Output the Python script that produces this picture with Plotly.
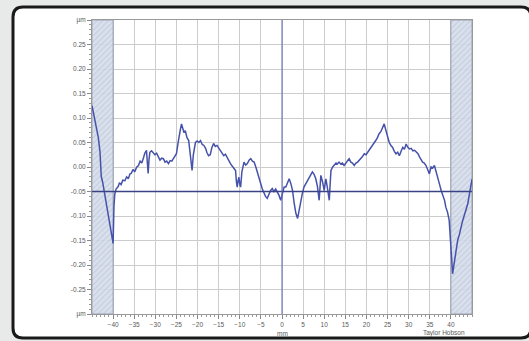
import plotly.graph_objects as go

# Profile data (mm, µm)
pos_mm = [-45.0,-44.6,-44.2,-43.9,-43.5,-43.1,-42.8,-42.5,-42.1,-41.6,-41.2,-40.8,-40.4,-40.0,-39.8,-39.6,-39.3,-38.8,-38.5,-38.1,
 -37.7,-37.2,-36.8,-36.4,-36.0,-35.7,-35.3,-34.9,-34.4,-34.0,-33.6,-33.2,-32.8,-32.5,-32.1,-31.9,-31.7,-31.5,-31.3,-30.9,
 -30.5,-30.1,-29.7,-29.3,-28.9,-28.5,-28.1,-27.7,-27.3,-26.9,-26.5,-26.1,-25.7,-25.3,-25.0,-24.6,-24.3,-24.1,-23.8,-23.5,
 -23.2,-22.9,-22.5,-22.1,-21.8,-21.5,-21.3,-21.0,-20.7,-20.5,-20.1,-19.7,-19.3,-18.9,-18.5,-18.1,-17.8,-17.4,-17.0,-16.6,
 -16.2,-15.8,-15.4,-15.0,-14.6,-14.2,-13.8,-13.4,-13.0,-12.6,-12.2,-11.8,-11.4,-11.0,-10.8,-10.6,-10.4,-10.2,-10.0,-9.8,
 -9.5,-9.2,-9.0,-8.6,-8.2,-7.8,-7.4,-7.0,-6.6,-6.2,-5.8,-5.4,-5.0,-4.7,-4.3,-3.9,-3.5,-3.1,-2.7,-2.3,
 -1.9,-1.5,-1.1,-0.7,-0.3,0.1,0.5,0.9,1.3,1.7,2.1,2.5,2.9,3.3,3.7,4.0,4.4,4.8,5.2,5.6,
 6.0,6.4,6.8,7.2,7.6,8.0,8.4,8.8,9.0,9.2,9.6,10.0,10.2,10.4,10.8,11.2,11.4,11.6,12.0,12.4,
 12.8,13.1,13.5,13.9,14.3,14.7,15.1,15.5,15.9,16.3,16.7,17.1,17.5,17.9,18.3,18.7,19.1,19.5,19.9,20.3,
 20.7,21.1,21.4,21.8,22.2,22.6,23.0,23.4,23.8,24.2,24.6,25.0,25.4,25.8,26.2,26.6,27.0,27.4,27.8,28.2,
 28.6,29.0,29.4,29.8,30.2,30.6,31.0,31.4,31.8,32.2,32.6,33.0,33.3,33.7,34.1,34.5,34.9,35.3,35.7,36.1,
 36.5,36.9,37.3,37.7,38.1,38.5,38.8,39.2,39.6,39.8,40.0,40.2,40.4,40.8,41.2,41.6,42.0,42.4,42.8,43.2,
 43.6,44.0,44.4,44.8,45.0]
height_um = [0.125,0.108,0.090,0.080,0.060,0.030,-0.020,-0.030,-0.050,-0.075,-0.088,-0.110,-0.130,-0.156,-0.080,-0.055,-0.045,-0.040,-0.032,-0.036,
 -0.027,-0.028,-0.020,-0.024,-0.014,-0.013,-0.005,-0.010,0.000,0.003,0.012,0.008,0.019,0.028,0.034,0.010,-0.013,0.015,0.030,0.033,
 0.028,0.025,0.028,0.020,0.014,0.018,0.017,0.010,0.012,0.007,0.013,0.012,0.017,0.022,0.027,0.050,0.070,0.075,0.088,0.080,
 0.070,0.074,0.060,0.054,0.030,0.010,-0.007,0.025,0.045,0.050,0.053,0.050,0.054,0.046,0.044,0.038,0.030,0.023,0.025,0.040,
 0.048,0.042,0.044,0.038,0.034,0.028,0.023,0.026,0.019,0.014,0.007,0.002,-0.002,-0.007,-0.030,-0.041,-0.028,-0.021,-0.035,-0.041,
 -0.010,0.005,0.010,0.004,0.007,0.014,0.017,0.012,0.010,0.000,-0.013,-0.025,-0.036,-0.044,-0.052,-0.060,-0.064,-0.055,-0.048,-0.044,
 -0.050,-0.045,-0.051,-0.058,-0.068,-0.052,-0.041,-0.041,-0.032,-0.024,-0.034,-0.048,-0.075,-0.095,-0.105,-0.090,-0.068,-0.055,-0.041,-0.034,
 -0.028,-0.021,-0.016,-0.010,-0.015,-0.024,-0.040,-0.068,-0.040,-0.017,-0.030,-0.048,-0.035,-0.024,-0.045,-0.068,-0.035,-0.007,0.000,0.003,
 0.008,0.006,0.010,0.006,0.008,0.003,0.008,0.013,0.017,0.010,0.008,0.003,0.008,0.010,0.013,0.018,0.022,0.027,0.025,0.030,
 0.034,0.038,0.042,0.047,0.054,0.060,0.068,0.072,0.080,0.088,0.075,0.061,0.050,0.044,0.040,0.032,0.027,0.030,0.023,0.032,
 0.040,0.036,0.047,0.040,0.037,0.038,0.033,0.034,0.030,0.027,0.020,0.015,0.010,0.008,0.003,-0.005,-0.014,0.000,-0.002,0.003,
 -0.008,-0.021,-0.035,-0.048,-0.058,-0.068,-0.082,-0.092,-0.109,-0.130,-0.156,-0.190,-0.218,-0.195,-0.170,-0.150,-0.138,-0.122,-0.109,-0.098,
 -0.088,-0.075,-0.055,-0.034,-0.025]

# Axis ticks
x_ticks = [-40,-35,-30,-25,-20,-15,-10,-5,0,5,10,15,20,25,30,35,40]
y_ticks = [-0.30,-0.25,-0.20,-0.15,-0.10,-0.05,0.00,0.05,0.10,0.15,0.20,0.25,0.30]
y_labels = ["µm","-0.25","-0.20","-0.15","-0.10","-0.05","0.00","0.05","0.10","0.15","0.20","0.25","µm"]

# Excluded (hatched) zones
zone_centers = [-42.5, 42.5]
zone_widths = [5, 5]

fig = go.Figure()
fig.add_trace(go.Bar(
    x=zone_centers, y=[0.6, 0.6], base=[-0.3, -0.3], width=zone_widths, opacity=0.9,
    marker=dict(color="#d3dbea", line=dict(color="#8f99ad", width=1),
                pattern=dict(shape="/", fgcolor="#a9b4ca", bgcolor="#d6deec", size=4, solidity=0.3)),
    hoverinfo="skip", showlegend=False))
fig.add_trace(go.Scatter(x=pos_mm, y=height_um, mode="lines",
                         line=dict(color="#4652aa", width=1.5), showlegend=False))

W, H = 529, 341
L, R, T, B = 92, 472, 20, 314
pw, ph = R - L, B - T
def px(xp): return (xp - L) / pw
def py(yp): return (B - yp) / ph

# rounded frame
x0, x1, y0, y1 = px(13), px(531), py(338), py(7)
rx, ry = 10 / pw, 10 / ph
path = (f"M {x0+rx},{y1} L {x1-rx},{y1} Q {x1},{y1} {x1},{y1-ry} L {x1},{y0+ry} Q {x1},{y0} {x1-rx},{y0} "
        f"L {x0+rx},{y0} Q {x0},{y0} {x0},{y0+ry} L {x0},{y1-ry} Q {x0},{y1} {x0+rx},{y1} Z")
fig.add_shape(type="path", path=path, xref="paper", yref="paper",
              fillcolor="white", line=dict(color="#1a1a1a", width=3), layer="below")
# reference lines
fig.add_shape(type="line", xref="x", yref="y", x0=-45, x1=45, y0=-0.05, y1=-0.05,
              line=dict(color="#3b4384", width=1.6), layer="above")
fig.add_shape(type="line", xref="x", yref="y", x0=0, x1=0, y0=-0.3, y1=0.3,
              line=dict(color="#5a64b8", width=1), layer="above")

tickfont = dict(family="Liberation Sans, Arial, sans-serif", size=6.5, color="#5a5a5a")
fig.update_xaxes(range=[-45, 45], tickvals=x_ticks, ticks="outside", ticklen=4, tickcolor="#888",
                 showgrid=True, gridcolor="#cccccc", gridwidth=1, zeroline=False,
                 showline=True, linecolor="#999999", mirror=True, tickfont=tickfont,
                 minor=dict(dtick=1, ticks="outside", ticklen=2, tickcolor="#999", showgrid=False))
fig.update_yaxes(range=[-0.3, 0.3], tickvals=y_ticks, ticktext=y_labels, ticks="outside", ticklen=4,
                 tickcolor="#888", showgrid=True, gridcolor="#cccccc", gridwidth=1, zeroline=False,
                 showline=True, linecolor="#999999", mirror=True, tickfont=tickfont,
                 minor=dict(dtick=0.01, ticks="outside", ticklen=2, tickcolor="#999", showgrid=False))

fig.add_annotation(text="mm", x=0, xref="x", y=py(333), yref="paper", showarrow=False,
                   font=tickfont, yanchor="middle")
fig.add_annotation(text="Taylor Hobson", x=px(467), xref="paper", y=py(333), yref="paper",
                   showarrow=False, font=tickfont, yanchor="middle")

fig.update_layout(width=W, height=H, margin=dict(l=L, r=W - R, t=T, b=H - B),
                  paper_bgcolor="#e8e9e9", plot_bgcolor="white", barmode="overlay",
                  showlegend=False)
fig.write_html("out.html", config={"displayModeBar": False},
               post_script="document.body.style.margin='0px';document.body.style.overflow='hidden';")
